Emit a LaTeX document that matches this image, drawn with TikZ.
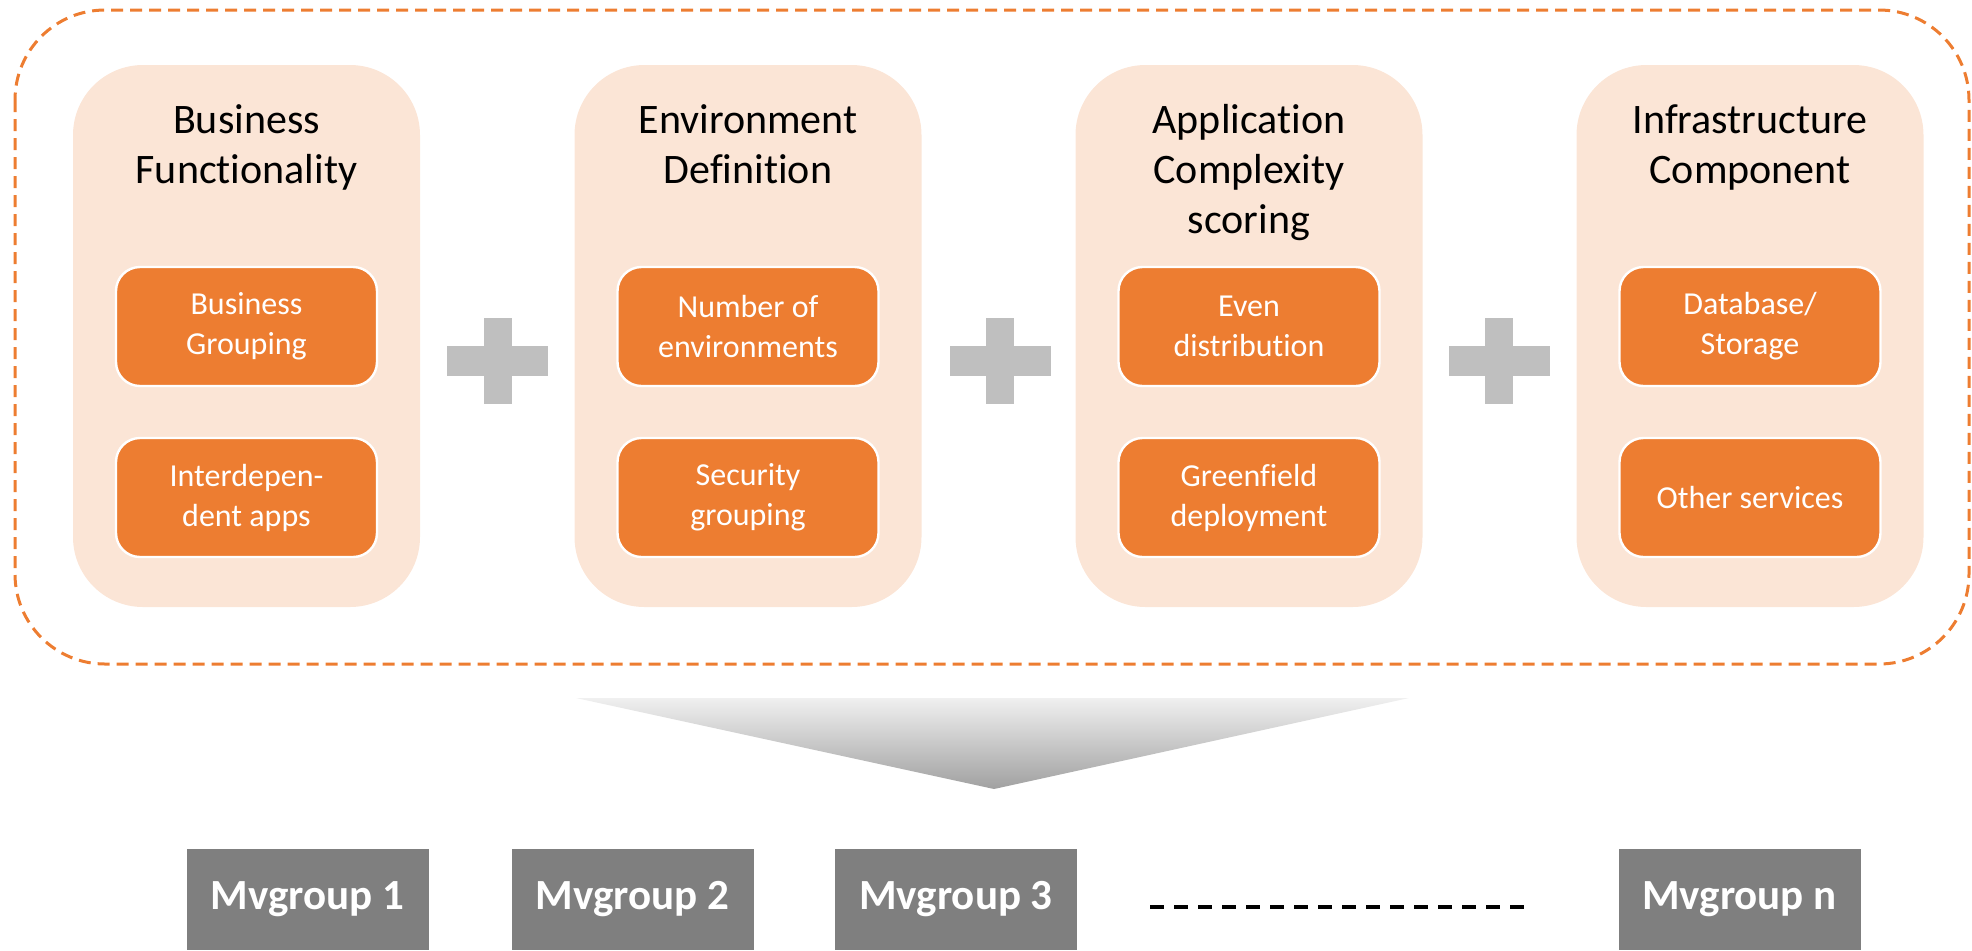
\documentclass[tikz,border=0pt]{standalone}
\usepackage{fontspec}
\setmainfont{Carlito}[RawFeature={-liga;-clig;-calt;-dlig;-rlig}]
\definecolor{orng}{HTML}{ED7D31}
\definecolor{peach}{HTML}{FBE5D6}
\definecolor{plusgray}{HTML}{BFBFBF}
\definecolor{boxgray}{HTML}{7F7F7F}
\newcommand{\tstrut}{\rule{0pt}{16pt}}
\begin{document}
\begin{tikzpicture}[x=0.5pt,y=-0.5pt,
 panel/.style={fill=peach, draw=none, rounded corners=35pt, minimum width=173.5pt, minimum height=271pt, inner sep=0pt},
 item/.style={fill=orng, draw=white, line width=1.2pt, rounded corners=12pt, text=white, font=\fontsize{16}{20}\selectfont, align=center, minimum width=130.5pt, minimum height=59.5pt, inner sep=0pt},
 title/.style={font=\fontsize{21}{25}\selectfont, align=center, anchor=north, inner sep=0pt},
 mv/.style={fill=boxgray, text=white, font=\bfseries\fontsize{21.5}{25}\selectfont, minimum width=121pt, minimum height=50.5pt, inner sep=0pt},
 outer/.style={draw=orng, line width=1.5pt, dash pattern=on 6pt off 3.5pt, rounded corners=45pt}]
\useasboundingbox (0,0) rectangle (1972,950);
% outer dashed frame
\draw[outer] (15,10) rectangle (1969,664);
% panels
\node[panel] (p1) at (246.5,336) {};
\node[panel] (p2) at (748,336) {};
\node[panel] (p3) at (1249,336) {};
\node[panel] (p4) at (1750,336) {};
% titles
\node[title] (t1) at (246.5,101) {\tstrut Business\\Functionality};
\node[title] (t2) at (748,101) {\tstrut Environment\\Definition};
\node[title] (t3) at (1249,101) {\tstrut Application\\Complexity\\scoring};
\node[title] (t4) at (1750,101) {\tstrut Infrastructure\\Component};
% items
\node[item] (a1) at (246.5,326.5) {Business\\Grouping};
\node[item] (a2) at (246.5,497.5) {Interdepen-\\dent apps};
\node[item] (b1) at (748,326.5) {Number of\\environments};
\node[item] (b2) at (748,497.5) {Security\\grouping};
\node[item] (c1) at (1249,326.5) {Even\\distribution};
\node[item] (c2) at (1249,497.5) {Greenfield\\deployment};
\node[item] (d1) at (1750,326.5) {Database/\\Storage};
\node[item] (d2) at (1750,497.5) {Other services};
% plus signs
\foreach \cx in {497.5,1000,1499}{
  \fill[plusgray] (\cx-50.5,346) rectangle (\cx+50.5,376);
  \fill[plusgray] (\cx-14,318) rectangle (\cx+14,404);
}
% funnel triangle
\shade[top color=black!6, bottom color=black!37] (576,698) -- (1409,698) -- (994,789) -- cycle;
% mvgroups
\node[mv] (m1) at (307.5,899.5) {Mvgroup 1};
\node[mv] (m2) at (632.5,899.5) {Mvgroup 2};
\node[mv] (m3) at (956,899.5) {Mvgroup 3};
\node[mv] (mn) at (1739.5,899.5) {Mvgroup n};
\coordinate (dl) at (1150,907);
\coordinate (dr) at (1527,907);
\draw[line width=1.75pt, dash pattern=on 7pt off 5pt] (dl) -- (dr);
\end{tikzpicture}
\end{document}
